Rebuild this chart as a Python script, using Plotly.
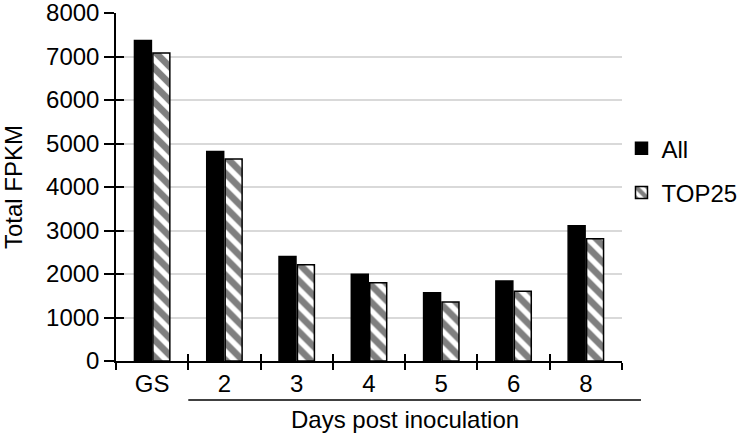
import plotly.graph_objects as go

categories = ["GS", "2", "3", "4", "5", "6", "8"]
all_values = [7365, 4815, 2400, 1995, 1570, 1840, 3110]
top25_values = [7080, 4645, 2210, 1800, 1355, 1605, 2810]
y_ticks = [0, 1000, 2000, 3000, 4000, 5000, 6000, 7000, 8000]

FONT = "Liberation Sans, Arial, sans-serif"
FS = 24

fig = go.Figure()
fig.add_trace(go.Bar(
    x=categories, y=all_values, name="All",
    marker=dict(color="black", line=dict(color="black", width=1.5)),
    legendgroup="a",
))
fig.add_trace(go.Bar(
    x=categories, y=top25_values, name="TOP25",
    marker=dict(color="white", line=dict(color="black", width=1.5),
                pattern=dict(shape="\\", fgcolor="black", bgcolor="white",
                             size=12, solidity=0.55)),
    legendgroup="b",
))
# helper invisible trace for crossing (inside) ticks
fig.add_trace(go.Scatter(
    x=categories, y=[0] * len(categories), xaxis="x2", yaxis="y2",
    mode="markers", marker=dict(opacity=0), showlegend=False, hoverinfo="skip",
))

fig.update_layout(
    width=742, height=435,
    margin=dict(l=116, r=120, t=13, b=74, autoexpand=False),
    paper_bgcolor="white", plot_bgcolor="white",
    font=dict(family=FONT, size=FS, color="black"),
    barmode="group", bargap=0.49, bargroupgap=0.08,
    showlegend=True,
    legend=dict(x=0.999, y=0.675, xanchor="left", yanchor="top",
                font=dict(size=FS), tracegroupgap=10,
                bgcolor="rgba(0,0,0,0)"),
    xaxis=dict(
        type="category", categoryorder="array", categoryarray=categories,
        range=[-0.5, 6.5], automargin=False,
        showline=True, linecolor="black", linewidth=1.5,
        ticks="outside", ticklen=7, tickwidth=1.5, tickcolor="black",
        tickson="boundaries", showgrid=False, zeroline=False,
        tickfont=dict(size=FS),
    ),
    yaxis=dict(
        range=[0, 8000], tickvals=y_ticks, automargin=False,
        ticklabeloverflow="allow",
        showline=True, linecolor="black", linewidth=1.5,
        ticks="outside", ticklen=10, tickwidth=1.5, tickcolor="black",
        showgrid=True, gridcolor="#d9d9d9", gridwidth=1.5,
        zeroline=False, tickfont=dict(size=FS),
        title=dict(text="Total FPKM", font=dict(size=FS), standoff=20),
    ),
    xaxis2=dict(
        type="category", categoryorder="array", categoryarray=categories,
        range=[-0.5, 6.5], overlaying="x", matches="x", automargin=False,
        ticks="inside", ticklen=7, tickwidth=1.5, tickcolor="black",
        tickson="boundaries", showticklabels=False, showgrid=False,
        showline=False, zeroline=False,
    ),
    yaxis2=dict(
        range=[0, 8000], tickvals=y_ticks, overlaying="y", automargin=False,
        ticks="inside", ticklen=8, tickwidth=1.5, tickcolor="black",
        showticklabels=False, showgrid=False, showline=False, zeroline=False,
    ),
)

fig.add_shape(type="line", xref="paper", yref="paper", x0=1 / 7, x1=1.0375,
              y0=-0.112, y1=-0.112, line=dict(color="black", width=1.5))
fig.add_annotation(text="Days post inoculation", xref="x", yref="paper",
                   x=3.5, y=-0.123, yanchor="top", showarrow=False,
                   font=dict(size=FS, color="black"))

fig.write_html(
    "out.html",
    config={"displayModeBar": False},
    post_script="document.body.style.margin='0';document.body.style.overflow='hidden';",
)
